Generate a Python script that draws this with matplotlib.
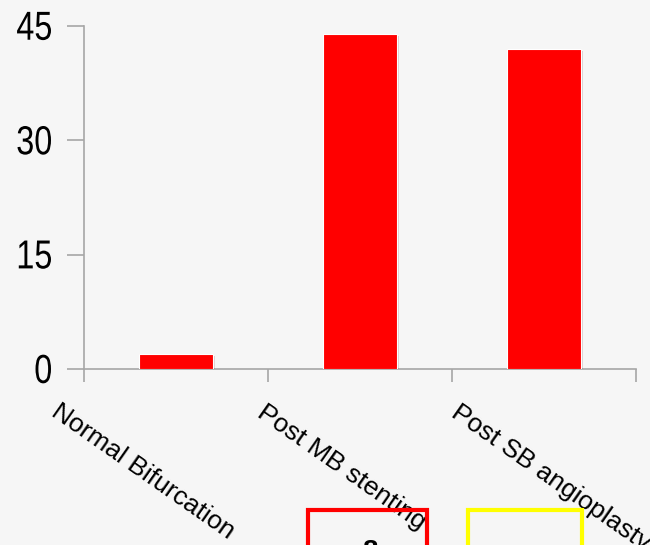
import matplotlib
matplotlib.use("Agg")
import matplotlib.pyplot as plt
import matplotlib.patches as mpatches
import matplotlib.patheffects as pe
from matplotlib.textpath import TextPath
from matplotlib.font_manager import FontProperties
from matplotlib.transforms import Affine2D, IdentityTransform

categories = ["Normal Bifurcation", "Post MB stenting", "Post SB angioplasty"]
values = [2.0, 44.0, 42.0]
y_ticks = [0, 15, 30, 45]

BG = "#f6f6f6"
AXIS = "#a6a6a6"

fig = plt.figure(figsize=(6.5, 5.45), dpi=100, facecolor=BG)
# axes placed in pixels: x 84..636, y 26..369 (from top)
ax = fig.add_axes([84 / 650, 1 - 369 / 545, (636 - 84) / 650, (369 - 26) / 545])
ax.set_facecolor(BG)

x = list(range(len(categories)))
bars = ax.bar(x, values, width=0.4, color="#ff0000", edgecolor="white",
              linewidth=0.8, zorder=3)
for b in bars:
    b.set_path_effects([pe.SimplePatchShadow(offset=(1.5, -1.5), alpha=0.15),
                        pe.Normal()])

ax.set_xlim(-0.5, len(categories) - 0.5)
ax.set_ylim(0, 45)

for s in ["top", "right"]:
    ax.spines[s].set_visible(False)
for s in ["left", "bottom"]:
    ax.spines[s].set_color(AXIS)
    ax.spines[s].set_linewidth(1.2)

ax.set_yticks(y_ticks)
ax.set_yticklabels([])
ax.tick_params(axis="y", length=12, width=1.2, color=AXIS)

# narrow y tick labels (condensed Liberation Sans drawn as paths)
fp = FontProperties(family="Liberation Sans")
for t in y_ticks:
    tp = TextPath((0, 0), str(t), size=40.5, prop=fp)
    bb = tp.get_extents()
    px, py = ax.transData.transform((ax.get_xlim()[0], t))
    tr = (Affine2D().translate(-bb.x1, -(bb.y0 + bb.y1) / 2).scale(0.8, 1)
          .translate(px - 33, py))
    fig.patches.append(mpatches.PathPatch(tr.transform_path(tp), facecolor="black",
                                          edgecolor="none",
                                          transform=IdentityTransform()))

ax.set_xticks([i - 0.5 for i in range(len(categories) + 1)])
ax.set_xticklabels([])
ax.tick_params(axis="x", length=9, width=1.2, color=AXIS)

# rotated category labels
nudges = [-0.625, -0.505, -0.45]
for i, lab in enumerate(categories):
    ax.text(i + nudges[i], -0.09, lab, transform=ax.get_xaxis_transform(),
            rotation=-35, rotation_mode="anchor", ha="left", va="top",
            fontsize=19, family=["Liberation Sans", "DejaVu Sans"],
            color="black", clip_on=False)

# partial boxes at the bottom edge
fig.patches.append(mpatches.Rectangle((308 / 650, -0.05), 119 / 650, (545 - 510) / 545 + 0.05,
                                      transform=fig.transFigure, fill=False,
                                      edgecolor="#ff0000", linewidth=3))
fig.patches.append(mpatches.Rectangle((468 / 650, -0.05), 114 / 650, (545 - 510) / 545 + 0.05,
                                      transform=fig.transFigure, fill=False,
                                      edgecolor="#ffff00", linewidth=3))
fig.text(370 / 650, 1 - 539 / 545, "8", ha="center", va="top", fontsize=20,
         fontweight="bold", family=["Liberation Sans", "DejaVu Sans"])

fig.savefig("out.png", dpi=100, facecolor=BG)
